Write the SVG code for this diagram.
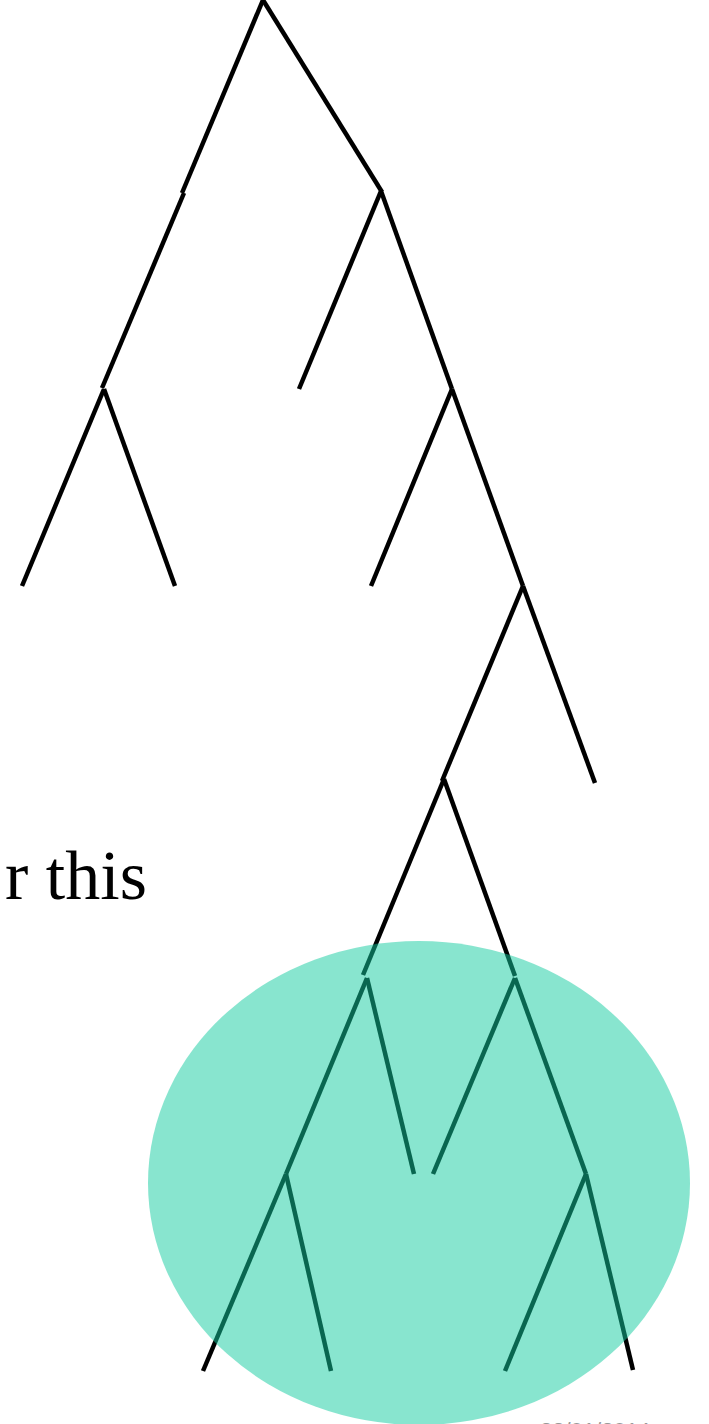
<svg xmlns="http://www.w3.org/2000/svg" width="709" height="1424" viewBox="0 0 709 1424">
<style>
.e{stroke:#000;stroke-width:4.5;fill:none;stroke-linecap:butt}
.t{font-family:"Liberation Serif",serif;font-size:70px;fill:#000}
.d{font-family:"Liberation Sans",sans-serif;font-size:22px;fill:#999}
</style>
<rect width="709" height="1424" fill="#fff"/>
<g id="connectors">
<line class="e" x1="263" y1="0" x2="182" y2="193"/>
<line class="e" x1="184" y1="193" x2="102" y2="388"/>
<line class="e" x1="263" y1="0" x2="382" y2="192"/>
<line class="e" x1="381" y1="191" x2="299" y2="389"/>
<line class="e" x1="381" y1="191" x2="452" y2="389"/>
<line class="e" x1="104" y1="389" x2="22" y2="586"/>
<line class="e" x1="104" y1="389" x2="175" y2="586"/>
<line class="e" x1="452" y1="389" x2="371" y2="586"/>
<line class="e" x1="452" y1="389" x2="523" y2="586"/>
<line class="e" x1="523" y1="586" x2="442" y2="781"/>
<line class="e" x1="523" y1="586" x2="595" y2="783"/>
<line class="e" x1="444" y1="779" x2="363" y2="975"/>
<line class="e" x1="444" y1="779" x2="515" y2="976"/>
<line class="e" x1="367" y1="978" x2="286" y2="1174"/>
<line class="e" x1="367" y1="978" x2="414" y2="1174"/>
<line class="e" x1="515" y1="978" x2="433" y2="1174"/>
<line class="e" x1="515" y1="978" x2="586" y2="1174"/>
<line class="e" x1="286" y1="1174" x2="203" y2="1371"/>
<line class="e" x1="286" y1="1174" x2="331" y2="1371"/>
<line class="e" x1="586" y1="1174" x2="505" y2="1371"/>
<line class="e" x1="586" y1="1174" x2="633" y2="1370"/>
</g>
<g id="label">
<text class="t" x="147" y="899" text-anchor="end">r this</text>
</g>
<g id="highlight">
<ellipse cx="419" cy="1183" rx="271" ry="242" fill="#12CBA0" fill-opacity="0.5"/>
</g>
<g id="footer">
<text class="d" x="540" y="1438">22/01/2014</text>
</g>
</svg>
